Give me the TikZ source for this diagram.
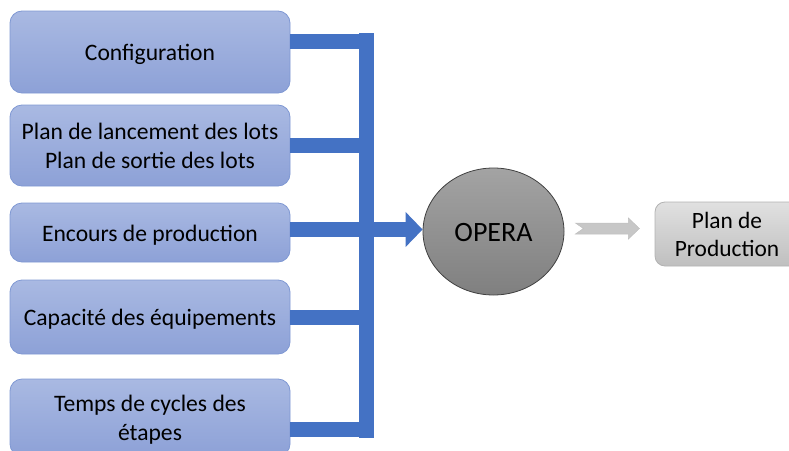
\documentclass[tikz,border=0pt]{standalone}
\usepackage{fontspec}
\setmainfont{Carlito}
\usetikzlibrary{shapes.geometric,arrows.meta}
\definecolor{boxtop}{HTML}{A9B9E2}
\definecolor{boxbot}{HTML}{8DA1D7}
\definecolor{boxline}{HTML}{7F98D3}
\definecolor{bus}{HTML}{4472C4}
\newcommand\lowtext[2][3pt]{\raisebox{-#1}[\height][\depth]{\begin{tabular}{@{}c@{}}#2\end{tabular}}}
\tikzset{
  inbox/.style={rounded corners=12pt, draw=boxline, line width=0.8pt,
    top color=boxtop, bottom color=boxbot, minimum width=280pt,
    align=center, font=\fontsize{23.6}{28.5}\selectfont, inner sep=2pt},
  busbar/.style={draw=bus, line width=15pt},
  opstyle/.style={ellipse, draw=black!75, line width=0.8pt, top color=black!36, bottom color=black!50,
    minimum width=141pt, minimum height=127pt, font=\fontsize{28}{30}\selectfont},
  outbox/.style={rounded corners=10pt, draw=black!30, line width=0.8pt, top color=black!12, bottom color=black!25,
    minimum width=144pt, minimum height=64pt, align=center, font=\fontsize{23.4}{28}\selectfont},
  grayarrow/.style={fill=black!22, draw=black!25, line width=0.5pt}
}
\begin{document}
\begin{tikzpicture}[x=1pt,y=-1pt]
\useasboundingbox (0,0) rectangle (789,450);
\clip (0,0) rectangle (789,450);
\node[inbox, minimum height=82pt] (b1) at (150,52) {\lowtext{Configuration}};
\node[inbox, minimum height=81pt] (b2) at (150,145.5) {\lowtext{Plan de lancement des lots\\Plan de sortie des lots}};
\node[inbox, minimum height=59pt] (b3) at (150,232.5) {\lowtext{Encours de production}};
\node[inbox, minimum height=74pt] (b4) at (150,317) {\lowtext{Capacité des équipements}};
\node[inbox, minimum height=77pt] (b5) at (150,417.5) {\lowtext{Temps de cycles des\\étapes}};
\node[opstyle] (opera) at (493.5,231.5) {\lowtext[4pt]{OPERA}};
\node[outbox] (plan) at (727,234) {Plan de\\Production};
% bus coordinates
\coordinate (c1) at (366.5,41.5);
\coordinate (c2) at (366.5,145.5);
\coordinate (c3) at (366.5,229.5);
\coordinate (c4) at (366.5,317.5);
\coordinate (c5) at (366.5,429.5);
\coordinate (top) at (366.5,33);
\coordinate (bot) at (366.5,438);
\draw[busbar] (top) -- (bot);
\draw[busbar] (b1.east |- c1) -- (c1);
\draw[busbar] (b2.east |- c2) -- (c2);
\draw[busbar] (b3.east |- c3) -- (c3);
\draw[busbar] (b4.east |- c4) -- (c4);
\draw[busbar] (b5.east |- c5) -- (c5);
\draw[busbar, -{Triangle[length=17pt,width=34pt]}] (c3) -- (c3 -| opera.west);
% gray output arrow
\coordinate (g0) at ([xshift=11pt,yshift=3pt]opera.east);
\filldraw[grayarrow] (g0) ++(0,-5.5) -- ++(8,5.5) -- ++(-8,5.5) -- ++(53,0) -- ++(0,5) -- ++(11,-10.5) -- ++(-11,-10.5) -- ++(0,5) -- cycle;
\end{tikzpicture}
\end{document}
